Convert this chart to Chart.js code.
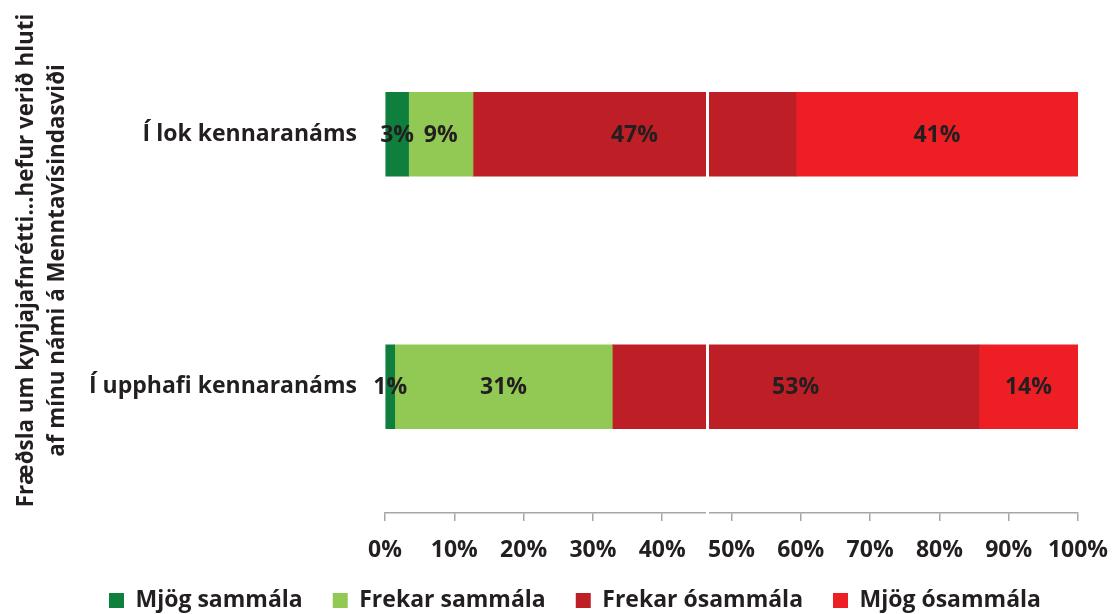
<!DOCTYPE html>
<html>
<head>
<meta charset="utf-8">
<script src="https://cdn.jsdelivr.net/npm/chart.js@4/dist/chart.umd.min.js"></script>
<style>
  html, body { margin: 0; padding: 0; background: #ffffff; }
  #wrap { width: 1114px; height: 614px; position: relative; }
</style>
</head>
<body>
<div id="wrap"><canvas id="c"></canvas></div>
<script>
// Survey categories (top to bottom)
const categories = ['Í lok kennaranáms', 'Í upphafi kennaranáms'];

// Answer shares, percent of respondents
const seriesNames    = ['Mjög sammála', 'Frekar sammála', 'Frekar ósammála', 'Mjög ósammála'];
const mjogSammala    = [3.4, 1.4];
const frekarSammala  = [9.3, 31.4];
const frekarOsammala = [46.6, 52.9];
const mjogOsammala   = [40.7, 14.3];

// Value axis ticks
const xTicks = [0, 10, 20, 30, 40, 50, 60, 70, 80, 90, 100];
const axisTitle = ['Fræðsla um kynjajafnrétti...hefur verið hluti', 'af mínu námi á Menntavísindasviði'];

// Position of the thin white seam across the bars (percent)
const seamAt = 46.4;

const seriesColors = ['#0e7f3d', '#92c955', '#be1e25', '#ed1f24'];
const textColor = '#231f20';
const axisColor = '#a6a6a6';
const FONT = '"Open Sans"';

const seriesValues = [mjogSammala, frekarSammala, frekarOsammala, mjogOsammala];

// Draws the rounded percent value centred in each bar segment
const segmentLabels = {
  id: 'segmentLabels',
  afterDatasetsDraw(chart) {
    const ctx = chart.ctx;
    ctx.save();
    ctx.font = 'bold 23px ' + FONT;
    ctx.fillStyle = textColor;
    ctx.textAlign = 'center';
    ctx.textBaseline = 'middle';
    chart.data.datasets.forEach((ds, i) => {
      const meta = chart.getDatasetMeta(i);
      meta.data.forEach((bar, j) => {
        const v = ds.data[j];
        const cx = (bar.x + bar.base) / 2;
        ctx.fillText(Math.round(v) + '%', cx, bar.y + 1);
      });
    });
    ctx.restore();
  }
};

// Thin white seam cutting through bars and the axis line
const seam = {
  id: 'seam',
  afterDraw(chart) {
    const x = chart.scales.x.getPixelForValue(seamAt);
    const a = chart.chartArea;
    const ctx = chart.ctx;
    ctx.save();
    ctx.fillStyle = '#ffffff';
    ctx.fillRect(Math.round(x) - 1, a.top, 3, a.bottom - a.top + 2);
    ctx.restore();
  }
};

new Chart(document.getElementById('c'), {
  type: 'bar',
  data: {
    labels: categories,
    datasets: seriesNames.map((name, i) => ({
      label: name,
      data: seriesValues[i],
      backgroundColor: seriesColors[i],
      borderWidth: 0,
      barThickness: 84
    }))
  },
  options: {
    indexAxis: 'y',
    responsive: true,
    maintainAspectRatio: false,
    animation: false,
    layout: { padding: { top: 8, right: 36, left: 72, bottom: 0 } },
    scales: {
      x: {
        stacked: true,
        min: 0,
        max: 100,
        afterBuildTicks(scale) { scale.ticks = xTicks.map(v => ({ value: v })); },
        afterFit(scale) {
          scale.height = 46;
          scale.paddingLeft = 0;
          scale.paddingRight = 0;
        },
        ticks: {
          callback: v => v + '%',
          font: { family: FONT, size: 23, weight: 'bold' },
          color: textColor,
          padding: 16,
          maxRotation: 0
        },
        grid: {
          display: true,
          drawOnChartArea: false,
          drawTicks: true,
          tickLength: 8,
          color: axisColor,
          lineWidth: 1.5
        },
        border: { display: true, color: axisColor, width: 1.5 }
      },
      y: {
        stacked: true,
        afterFit(scale) {
          scale.width = 313;
          scale.paddingTop = 0;
          scale.paddingBottom = 0;
        },
        ticks: {
          font: { family: FONT, size: 23, weight: 'bold' },
          color: textColor,
          padding: 20
        },
        grid: { display: false },
        border: { display: false },
        title: {
          display: true,
          text: axisTitle,
          font: { family: FONT, size: 22.4, weight: 'bold', lineHeight: 1.4 },
          color: textColor,
          padding: { top: -61, bottom: 0 }
        }
      }
    },
    plugins: {
      legend: {
        position: 'bottom',
        maxHeight: 55,
        labels: {
          boxWidth: 15,
          boxHeight: 15,
          padding: 30,
          color: textColor,
          font: { family: FONT, size: 23, weight: 'bold' }
        }
      },
      tooltip: { enabled: false }
    }
  },
  plugins: [segmentLabels, seam]
});
</script>
</body>
</html>
